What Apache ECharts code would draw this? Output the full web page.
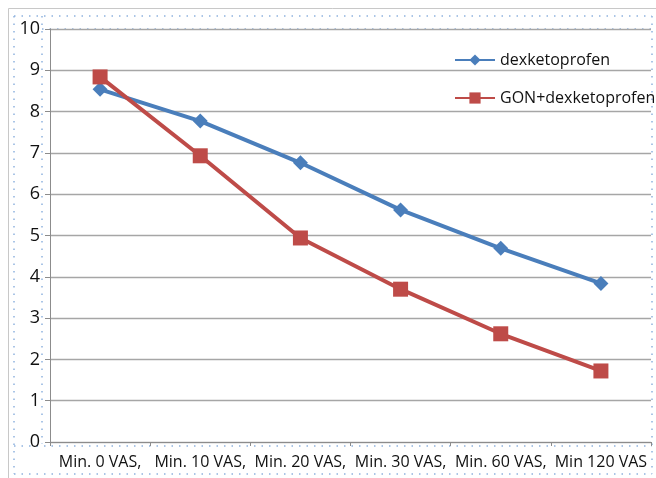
<!DOCTYPE html>
<html>
<head>
<meta charset="utf-8">
<script src="https://cdn.jsdelivr.net/npm/echarts@6/dist/echarts.min.js"></script>
<style>
  html, body { margin: 0; padding: 0; background: #ffffff; }
  #chart { width: 656px; height: 478px; }
</style>
</head>
<body>
<div id="chart"></div>
<script>
// Time points of VAS measurement
const categories = ['Min. 0 VAS,', 'Min. 10 VAS,', 'Min. 20 VAS,', 'Min. 30 VAS,', 'Min. 60 VAS,', 'Min 120 VAS'];
// Mean VAS scores per group
const dexketoprofen = [8.54, 7.77, 6.76, 5.62, 4.69, 3.84];
const gonDexketoprofen = [8.84, 6.93, 4.94, 3.70, 2.62, 1.72];
const seriesNames = ['dexketoprofen', 'GON+dexketoprofen'];

const chart = echarts.init(document.getElementById('chart'), null, { renderer: 'canvas' });

const dotted = { stroke: '#8fb3de', lineWidth: 1.5, lineDash: [1.5, 6] };

chart.setOption({
  animation: false,
  backgroundColor: '#ffffff',
  grid: { left: 50, right: 5, top: 29, bottom: 36 },
  legend: {
    orient: 'vertical',
    left: 449,
    top: 47,
    itemGap: 22,
    itemWidth: 40,
    itemHeight: 14,
    textStyle: { fontFamily: 'Open Sans', fontSize: 16, color: '#111111' },
    data: seriesNames
  },
  xAxis: {
    type: 'category',
    data: categories,
    boundaryGap: true,
    axisLine: { lineStyle: { color: '#8c8c8c', width: 1 } },
    axisTick: { show: true, length: 4, lineStyle: { color: '#8c8c8c' } },
    axisLabel: {
      interval: 0,
      hideOverlap: false,
      margin: 12,
      fontFamily: 'Open Sans',
      fontSize: 16,
      color: '#111111'
    }
  },
  yAxis: {
    type: 'value',
    min: 0,
    max: 10,
    interval: 1,
    axisLine: { show: true, lineStyle: { color: '#8c8c8c', width: 1 } },
    axisTick: { show: true, length: 5, lineStyle: { color: '#8c8c8c' } },
    splitLine: { lineStyle: { color: '#a6a6a6', width: 1.3 } },
    axisLabel: {
      margin: 10,
      fontFamily: 'Open Sans',
      fontSize: 18,
      color: '#111111'
    }
  },
  series: [
    {
      name: seriesNames[0],
      type: 'line',
      data: dexketoprofen,
      symbol: 'diamond',
      symbolSize: 15,
      lineStyle: { width: 4, color: '#4a7ebb' },
      itemStyle: { color: '#4a7ebb' },
      z: 3
    },
    {
      name: seriesNames[1],
      type: 'line',
      data: gonDexketoprofen,
      symbol: 'rect',
      symbolSize: 15,
      lineStyle: { width: 4, color: '#be4b48' },
      itemStyle: { color: '#be4b48' },
      z: 4
    }
  ],
  graphic: [
    // outer chart frame
    { type: 'rect', shape: { x: 8.5, y: 8.5, width: 700, height: 500 }, style: { fill: 'none', stroke: '#c8c8c8', lineWidth: 1 }, silent: true },
    // selection handles around the plot and axes
    { type: 'line', shape: { x1: 14, y1: 16, x2: 652, y2: 16 }, style: dotted, silent: true },
    { type: 'line', shape: { x1: 42, y1: 29, x2: 652, y2: 29 }, style: dotted, silent: true },
    { type: 'line', shape: { x1: 14, y1: 16, x2: 14, y2: 474 }, style: dotted, silent: true },
    { type: 'line', shape: { x1: 42, y1: 16, x2: 42, y2: 444 }, style: dotted, silent: true },
    { type: 'line', shape: { x1: 652, y1: 16, x2: 652, y2: 474 }, style: dotted, silent: true },
    { type: 'line', shape: { x1: 14, y1: 446, x2: 652, y2: 446 }, style: dotted, silent: true },
    { type: 'line', shape: { x1: 14, y1: 474, x2: 652, y2: 474 }, style: dotted, silent: true }
  ]
});
</script>
</body>
</html>
